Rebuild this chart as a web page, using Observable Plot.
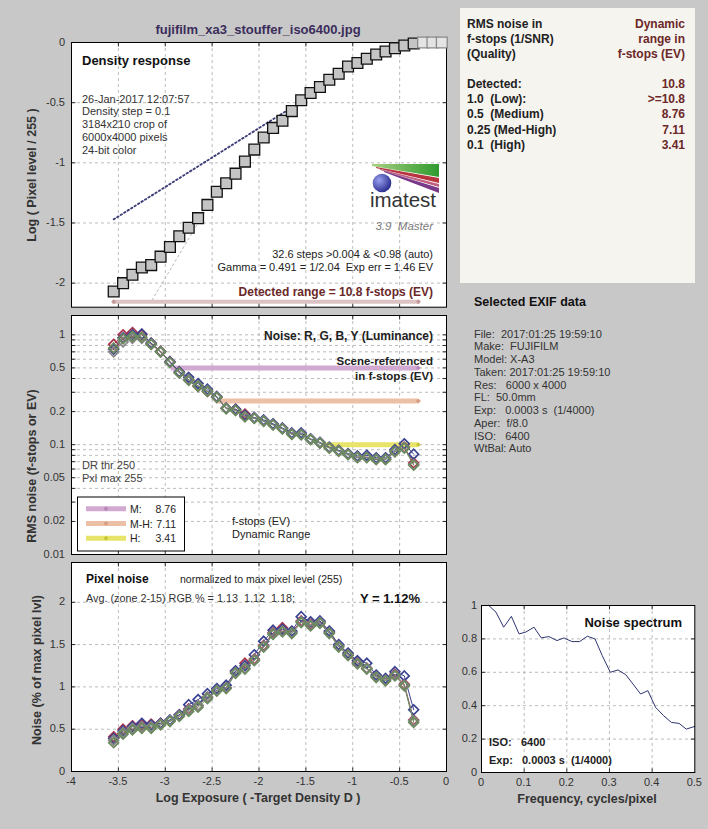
<!DOCTYPE html>
<html><head><meta charset="utf-8">
<script src="https://cdn.jsdelivr.net/npm/d3@7"></script>
<script src="https://cdn.jsdelivr.net/npm/@observablehq/plot@0.6"></script>
<style>
html,body{margin:0;padding:0;background:#c8c8c8;}
#root{position:relative;width:708px;height:829px;background:#c8c8c8;overflow:hidden;}
.pl{position:absolute;z-index:1;}
.tk{position:absolute;z-index:10;font-family:"Liberation Sans",Arial,Helvetica,sans-serif;font-size:11px;line-height:13px;height:13px;color:#333;white-space:pre;}
</style></head><body><div id="root"></div>
<script>
// ---------------- DATA ----------------
const fileTitle = "fujifilm_xa3_stouffer_iso6400.jpg";
// Density response (log exposure vs log pixel level)
const xDensity = [-3.55,-3.45,-3.35,-3.25,-3.15,-3.05,-2.95,-2.85,-2.75,-2.65,-2.55,-2.45,-2.35,-2.25,-2.15,-2.05,-1.95,-1.85,-1.75,-1.65,-1.55,-1.45,-1.35,-1.25,-1.15,-1.05,-0.95,-0.85,-0.75,-0.65,-0.55,-0.45,-0.35,-0.25,-0.15,-0.05];
const densityLog = [-2.07,-2.00,-1.93,-1.87,-1.85,-1.78,-1.70,-1.61,-1.54,-1.46,-1.35,-1.24,-1.17,-1.09,-0.99,-0.89,-0.79,-0.71,-0.65,-0.57,-0.48,-0.42,-0.37,-0.31,-0.26,-0.20,-0.17,-0.135,-0.10,-0.075,-0.047,-0.025,-0.008,0,0,0];
const gammaFitX = [-3.55,-1.65];
const gammaFitY = [-1.47,-0.54];
const expErrX = [-3.14,-2.55];
const expErrY = [-2.14,-1.37];
const detectedRangeX = [-3.55,-0.30];
const detectedRangeY = [-2.155,-2.155];

// Noise (f-stops) and pixel noise (% of max), R G B Y
const xNoise = [-3.55,-3.45,-3.35,-3.25,-3.15,-3.05,-2.95,-2.85,-2.75,-2.65,-2.55,-2.45,-2.35,-2.25,-2.15,-2.05,-1.95,-1.85,-1.75,-1.65,-1.55,-1.45,-1.35,-1.25,-1.15,-1.05,-0.95,-0.85,-0.75,-0.65,-0.55,-0.45,-0.35];
const evNoiseR = [0.82,1.00,1.05,1.00,0.84,0.71,0.57,0.46,0.39,0.34,0.305,0.27,0.215,0.21,0.19,0.175,0.165,0.153,0.14,0.126,0.125,0.112,0.104,0.094,0.088,0.082,0.077,0.077,0.074,0.074,0.087,0.095,0.068];
const evNoiseG = [0.76,0.92,0.97,0.95,0.82,0.70,0.56,0.45,0.385,0.34,0.305,0.27,0.212,0.205,0.18,0.173,0.163,0.151,0.139,0.124,0.123,0.111,0.103,0.093,0.087,0.081,0.076,0.076,0.073,0.073,0.086,0.093,0.065];
const evNoiseB = [0.74,0.94,1.00,1.02,0.84,0.70,0.57,0.46,0.41,0.36,0.32,0.275,0.215,0.21,0.185,0.177,0.168,0.155,0.142,0.128,0.128,0.113,0.105,0.095,0.089,0.083,0.079,0.080,0.076,0.076,0.090,0.102,0.082];
const evNoiseY = [0.70,0.86,0.93,0.93,0.82,0.70,0.56,0.45,0.39,0.345,0.31,0.27,0.215,0.205,0.18,0.175,0.165,0.152,0.14,0.125,0.124,0.112,0.104,0.094,0.088,0.082,0.077,0.077,0.074,0.074,0.087,0.094,0.066];
const pixNoiseR = [0.41,0.50,0.54,0.55,0.56,0.57,0.60,0.67,0.74,0.78,0.88,0.96,0.99,1.18,1.28,1.33,1.49,1.64,1.70,1.65,1.78,1.74,1.77,1.65,1.49,1.39,1.29,1.22,1.13,1.09,1.15,1.03,0.61];
const pixNoiseG = [0.34,0.44,0.49,0.51,0.51,0.55,0.59,0.65,0.71,0.76,0.86,0.95,0.98,1.16,1.21,1.31,1.47,1.62,1.65,1.63,1.76,1.72,1.75,1.63,1.47,1.37,1.27,1.21,1.11,1.07,1.13,1.01,0.58];
const pixNoiseB = [0.39,0.48,0.53,0.57,0.55,0.57,0.61,0.67,0.79,0.85,0.92,0.98,1.02,1.19,1.25,1.38,1.54,1.67,1.68,1.66,1.83,1.77,1.78,1.66,1.50,1.40,1.31,1.28,1.14,1.10,1.18,1.13,0.73];
const pixNoiseY = [0.37,0.46,0.51,0.53,0.53,0.56,0.60,0.66,0.73,0.78,0.88,0.96,0.99,1.17,1.22,1.32,1.48,1.63,1.66,1.64,1.77,1.73,1.76,1.64,1.48,1.38,1.28,1.22,1.12,1.08,1.14,1.02,0.60];

// Dynamic range levels
const drLabels = ["M:","M-H:","H:"];
const drValues = [8.76,7.11,3.41];
const drNoiseLevels = [0.5,0.25,0.1];
const drEnd = -0.30;

// Noise spectrum
const specFreq = [0.017,0.034,0.052,0.070,0.088,0.103,0.123,0.140,0.158,0.177,0.193,0.212,0.230,0.248,0.266,0.283,0.302,0.320,0.338,0.355,0.373,0.390,0.408,0.427,0.445,0.463,0.480,0.500];
const specPower = [1.00,0.96,0.87,0.935,0.83,0.84,0.87,0.806,0.814,0.79,0.806,0.784,0.784,0.816,0.80,0.70,0.60,0.614,0.586,0.53,0.47,0.49,0.39,0.34,0.30,0.294,0.26,0.276];

// Tick labels
const xTicks = [-4,-3.5,-3,-2.5,-2,-1.5,-1,-0.5,0];
const p1Ticks = [0,-0.5,-1,-1.5,-2];
const p2Ticks = [1,0.5,0.2,0.1,0.05,0.02,0.01];
const p2Minor = [0.01,0.02,0.03,0.04,0.05,0.06,0.07,0.08,0.09,0.1,0.2,0.3,0.4,0.5,0.6,0.7,0.8,0.9,1];
const p3Ticks = [0,0.5,1,1.5,2];
const specXTicks = [0,0.1,0.2,0.3,0.4,0.5];
const specYTicks = [0,0.2,0.4,0.6,0.8,1];

// Text blocks
const densityInfo = ["26-Jan-2017 12:07:57","Density step = 0.1","3184x210 crop of","6000x4000 pixels","24-bit color"];
const qualityLabels = ["Detected:","1.0  (Low):","0.5  (Medium)","0.25 (Med-High)","0.1  (High)"];
const qualityValues = ["10.8",">=10.8","8.76","7.11","3.41"];
const exifLines = ["File:  2017:01:25 19:59:10","Make:  FUJIFILM","Model: X-A3","Taken: 2017:01:25 19:59:10","Res:   6000 x 4000","FL:  50.0mm","Exp:   0.0003 s  (1/4000)","Aper:  f/8.0","ISO:   6400","WtBal: Auto"];

// ---------------- DRAW ----------------
const FONT = '"Liberation Sans", Arial, Helvetica, sans-serif';
const ST = {fontFamily: FONT, fontSize: "11px", color: "#333", background: "transparent", overflow: "visible"};
const GRID = {stroke: "#b4b4b4", strokeDasharray: "3,3", strokeWidth: 0.9};
const fmt = d => String(d);
const root = document.getElementById("root");
function place(svg, left, top) {
  const d = document.createElement("div");
  d.className = "pl"; d.style.left = left + "px"; d.style.top = top + "px";
  d.appendChild(svg); root.appendChild(d);
}
const tickIn = {
  top: {draw(c){c.moveTo(0,0);c.lineTo(0,4);}},
  bottom: {draw(c){c.moveTo(0,0);c.lineTo(0,-4);}},
  left: {draw(c){c.moveTo(0,0);c.lineTo(4,0);}},
  right: {draw(c){c.moveTo(0,0);c.lineTo(-4,0);}}
};
function frameTicks(xt, yt) {
  return [
    Plot.dot(xt, {x: d=>d, frameAnchor:"top", symbol: tickIn.top, stroke:"#000", strokeWidth:0.8}),
    Plot.dot(xt, {x: d=>d, frameAnchor:"bottom", symbol: tickIn.bottom, stroke:"#000", strokeWidth:0.8}),
    Plot.dot(yt, {y: d=>d, frameAnchor:"left", symbol: tickIn.left, stroke:"#000", strokeWidth:0.8}),
    Plot.dot(yt, {y: d=>d, frameAnchor:"right", symbol: tickIn.right, stroke:"#000", strokeWidth:0.8})
  ];
}
const COLORS = {R:"#a8344a", B:"#3a4290", Y:"#858585", G:"#6b8a5e"};
function series(xs, ys, color) {
  const rows = xs.map((x,i)=>({x, y: ys[i]}));
  return [
    Plot.line(rows, {x:"x", y:"y", stroke: color, strokeWidth: 1}),
    Plot.dot(rows, {x:"x", y:"y", symbol:"diamond2", r: 4.4, stroke: color, strokeWidth: 1.7, fill: "none"})
  ];
}
const xInner = xTicks.slice(1, -1);

// Panel 1: density response
const density = xDensity.map((x,i)=>({x, y: densityLog[i]}));
const p1 = Plot.plot({
  width: 460, height: 315, marginLeft: 71, marginRight: 14, marginTop: 42, marginBottom: 8.3,
  x: {domain: [-4, 0], axis: null}, y: {domain: [-2.2, 0], axis: null}, style: ST,
  marks: [
    Plot.frame({fill: "white"}),
    Plot.ruleX(xInner, GRID),
    Plot.ruleY(p1Ticks.slice(1), GRID),
    ...frameTicks(xInner, p1Ticks),
    Plot.line(expErrX.map((x,i)=>({x, y: expErrY[i]})), {x:"x", y:"y", stroke:"#b8b8b8", strokeDasharray:"2,3", strokeWidth:1}),
    Plot.line(density.filter(d=>d.y<0), {x:"x", y:"y", stroke:"#a9b060", strokeDasharray:"1,2", strokeWidth:1}),
    Plot.line(gammaFitX.map((x,i)=>({x, y: gammaFitY[i]})), {x:"x", y:"y", stroke:"#3f3f78", strokeDasharray:"1.5,2.6", strokeWidth:1.9}),
    Plot.line(detectedRangeX.map((x,i)=>({x, y: detectedRangeY[i]})), {x:"x", y:"y", stroke:"#dcc3c3", strokeWidth:4}),
    Plot.dot(detectedRangeX.map((x,i)=>({x, y: detectedRangeY[i]})), {x:"x", y:"y", symbol:"diamond2", r:2.2, fill:"#c49a9a"}),
    Plot.frame({stroke: "#000"}),
    Plot.dot(density, {x:"x", y:"y", symbol:"square", r:6.1, fill: d => d.y >= 0 ? "#e4e4e4" : "#c4c4c4", stroke: d => d.y >= 0 ? "#8a8a8a" : "#111", strokeWidth: 1.3})
  ]
});
place(p1, 0, 0);

// Panel 2: RMS noise in f-stops (log)
const drRows = drValues.map((v,i)=>({label: drLabels[i], dr: v, level: drNoiseLevels[i], x1: drEnd - v*Math.log10(2), x2: drEnd}));
const DRC = ["#d1a9d1","#ecc0a6","#e8e46a"];
const DRM = ["#b887b8","#d89e84","#c8c43a"];
const p2 = Plot.plot({
  width: 460, height: 250, marginLeft: 71, marginRight: 14, marginTop: 5, marginBottom: 6,
  x: {domain: [-4, 0], axis: null}, y: {type: "log", domain: [0.01, 1.5], axis: null}, style: ST,
  marks: [
    Plot.frame({fill: "white"}),
    Plot.ruleX(xInner, GRID),
    Plot.ruleY(p2Minor.slice(1), GRID),
    ...frameTicks(xInner, p2Minor),
    ...drRows.map((r,i)=>Plot.ruleY([r], {y:"level", x1:"x1", x2:"x2", stroke: DRC[i], strokeWidth: 5})),
    ...drRows.map((r,i)=>Plot.dot([r], {x:"x2", y:"level", symbol:"diamond2", r:2.2, fill: DRM[i]})),
    ...series(xNoise, evNoiseR, COLORS.R),
    ...series(xNoise, evNoiseB, COLORS.B),
    ...series(xNoise, evNoiseY, COLORS.Y),
    ...series(xNoise, evNoiseG, COLORS.G),
    Plot.frame({stroke: "#000"})
  ]
});
place(p2, 0, 310);

// Panel 3: pixel noise
const p3 = Plot.plot({
  width: 460, height: 273, marginLeft: 71, marginRight: 14, marginTop: 6, marginBottom: 58,
  x: {domain: [-4, 0], axis: null}, y: {domain: [0, 2.47], axis: null}, style: ST,
  marks: [
    Plot.frame({fill: "white"}),
    Plot.ruleX(xInner, GRID),
    Plot.ruleY(p3Ticks.slice(1), GRID),
    ...frameTicks(xInner, p3Ticks),
    ...series(xNoise, pixNoiseR, COLORS.R),
    ...series(xNoise, pixNoiseB, COLORS.B),
    ...series(xNoise, pixNoiseY, COLORS.Y),
    ...series(xNoise, pixNoiseG, COLORS.G),
    Plot.frame({stroke: "#000"})
  ]
});
place(p3, 0, 556);

// Noise spectrum
const spec = specFreq.map((f,i)=>({f, v: specPower[i]}));
const p4 = Plot.plot({
  width: 253, height: 239, marginLeft: 26, marginRight: 13.7, marginTop: 15, marginBottom: 57,
  x: {domain: [0, 0.5], axis: null}, y: {domain: [0, 1], axis: null}, style: ST,
  marks: [
    Plot.frame({fill: "white"}),
    Plot.ruleX(specXTicks.slice(1, -1), GRID),
    Plot.ruleY(specYTicks.slice(1, -1), GRID),
    ...frameTicks(specXTicks.slice(1, -1), specYTicks.slice(1, -1)),
    Plot.line(spec, {x:"f", y:"v", stroke:"#2e3672", strokeWidth: 1}),
    Plot.frame({stroke: "#000"})
  ]
});
place(p4, 455, 590);

// ---------------- TEXT OVERLAY ----------------
const ov = d3.select(root).append("svg").attr("width", 708).attr("height", 829)
  .style("position","absolute").style("left","0px").style("top","0px").style("z-index", 5);
function T(str, x, y, o = {}) {
  const t = ov.append("text").attr("x", x).attr("y", y).text(str)
    .attr("font-family", FONT).attr("font-size", o.size || 11)
    .attr("font-weight", o.bold ? "bold" : "normal")
    .attr("fill", o.color || "#222").attr("text-anchor", o.anchor || "start")
    .style("white-space", "pre");
  if (o.italic) t.attr("font-style", "italic");
  if (o.rot) t.attr("transform", `rotate(-90 ${x} ${y})`);
  return t;
}
// tick labels (HTML) positioned with each plot's own scales
function tickDiv(str, css) {
  const d = document.createElement("div");
  d.className = "tk"; d.textContent = str;
  Object.assign(d.style, css);
  root.appendChild(d);
}
function yTickLabels(plot, ticks, left, top, pad) {
  const sy = plot.scale("y"), sx = plot.scale("x");
  const edge = left + sx.range[0];
  ticks.forEach(v => tickDiv(fmt(v), {right: (708 - edge + pad) + "px", top: (top + sy.apply(v) - 6.5) + "px"}));
}
function xTickLabels(plot, ticks, left, top) {
  const sy = plot.scale("y"), sx = plot.scale("x");
  const edge = top + sy.range[0];
  ticks.forEach(v => tickDiv(fmt(v), {left: (left + sx.apply(v)) + "px", top: (edge + 3.5) + "px", transform: "translateX(-50%)"}));
}
yTickLabels(p1, p1Ticks, 0, 0, 6);
yTickLabels(p2, p2Ticks, 0, 310, 6);
yTickLabels(p3, p3Ticks, 0, 556, 6);
xTickLabels(p3, xTicks, 0, 556);
yTickLabels(p4, specYTicks, 455, 590, 4);
xTickLabels(p4, specXTicks, 455, 590);

const DARKRED = "#6b2828";

// title and axis labels
T(fileTitle, 258, 34, {size: 13, bold: true, color: "#3b2d5b", anchor: "middle"});
T("Log ( Pixel level / 255 )", 36, 175, {size: 12.5, bold: true, color: "#333", anchor: "middle", rot: true});
T("RMS noise (f-stops or EV)", 36, 466, {size: 12.5, bold: true, color: "#333", anchor: "middle", rot: true});
T("Noise (% of max pixel lvl)", 41, 670, {size: 12.5, bold: true, color: "#333", anchor: "middle", rot: true});
T("Log Exposure ( -Target Density D )", 258, 802, {size: 12.5, bold: true, color: "#333", anchor: "middle"});

// panel 1 annotations
T("Density response", 82, 65, {size: 13, bold: true, color: "#111"});
densityInfo.forEach((s,i)=>T(s, 82, 102.5 + i*12.8, {size: 11, color: "#333"}));
// imatest logo
const defs = ov.append("defs");
const rg = defs.append("radialGradient").attr("id","sph").attr("cx","35%").attr("cy","35%").attr("r","70%");
rg.append("stop").attr("offset","0%").attr("stop-color","#9aa0ee");
rg.append("stop").attr("offset","100%").attr("stop-color","#262a8e");
const lg = defs.append("linearGradient").attr("id","grn").attr("x1","0").attr("x2","1");
lg.append("stop").attr("offset","0%").attr("stop-color","#a8d080");
lg.append("stop").attr("offset","100%").attr("stop-color","#2f9a2f");
ov.append("polygon").attr("points","372,164 439,164 439,177 372,166").attr("fill","url(#grn)");
ov.append("polygon").attr("points","376,167 439,178 439,183 376,168").attr("fill","#b8343f");
ov.append("polygon").attr("points","380,169 439,184 439,187 380,170").attr("fill","#c06080");
ov.append("polygon").attr("points","384,171 439,188 439,193 384,172").attr("fill","#7a3a8a");
ov.append("circle").attr("cx",382).attr("cy",183).attr("r",9.3).attr("fill","url(#sph)");
T("imatest", 436, 207, {size: 20.5, color: "#333", anchor: "end"});
T("3.9  Master", 433, 229.5, {size: 11.5, italic: true, color: "#7a7a7a", anchor: "end"});
T("32.6 steps >0.004 & <0.98 (auto)", 433, 258, {size: 11, color: "#222", anchor: "end"});
T("Gamma = 0.491 = 1/2.04  Exp err = 1.46 EV", 433, 271, {size: 11, color: "#222", anchor: "end"});
T("Detected range = 10.8 f-stops (EV)", 433, 296, {size: 12, bold: true, color: DARKRED, anchor: "end"});

// panel 2 annotations
T("Noise: R, G, B, Y (Luminance)", 433, 339.5, {size: 12, bold: true, color: "#222", anchor: "end"});
T("Scene-referenced", 433, 365, {size: 11.5, bold: true, color: "#222", anchor: "end"});
T("in f-stops (EV)", 433, 379.5, {size: 11.5, bold: true, color: "#222", anchor: "end"});
T("DR thr 250", 82, 469, {size: 11, color: "#444"});
T("Pxl max 255", 82, 482, {size: 11, color: "#444"});
T("f-stops (EV)", 232, 525, {size: 11, color: "#222"});
T("Dynamic Range", 232, 537.5, {size: 11, color: "#222"});
ov.append("rect").attr("x",77.5).attr("y",497).attr("width",107).attr("height",54).attr("fill","white").attr("stroke","#000").attr("stroke-width",1);
drRows.forEach((r,i)=>{
  const cy = 508.7 + i*14.8;
  ov.append("line").attr("x1",86).attr("x2",126).attr("y1",cy).attr("y2",cy).attr("stroke",DRC[i]).attr("stroke-width",5);
  ov.append("path").attr("d",`M106,${cy-2.5}L108.5,${cy}L106,${cy+2.5}L103.5,${cy}Z`).attr("fill",DRM[i]);
  T(r.label, 130, cy + 4, {size: 10.5, color: "#222"});
  T(r.dr.toFixed(2), 176, cy + 4, {size: 10.5, color: "#222", anchor: "end"});
});

// panel 3 annotations
T("Pixel noise", 86, 583, {size: 12, bold: true, color: "#111"});
T("normalized to max pixel level (255)", 180, 583, {size: 10.5, color: "#222"});
T("Avg. (zone 2-15) RGB % = 1.13  1.12  1.18;", 86, 602, {size: 10.8, color: "#333"});
T("Y = 1.12%", 420, 603, {size: 13, bold: true, color: "#111", anchor: "end"});

// spectrum annotations
T("Noise spectrum", 682, 627, {size: 13, bold: true, color: "#111", anchor: "end"});
T("ISO:", 489, 746, {size: 11, bold: true, color: "#222"});
T("6400", 521, 746, {size: 11, bold: true, color: "#222"});
T("Exp:", 489, 764, {size: 11, bold: true, color: "#222"});
T("0.0003 s  (1/4000)", 522, 764, {size: 11, bold: true, color: "#222"});
T("Frequency, cycles/pixel", 587, 803, {size: 12.5, bold: true, color: "#333", anchor: "middle"});

// right info box
ov.append("rect").attr("x",460).attr("y",8).attr("width",235).attr("height",275).attr("fill","#f6f4ef");
["RMS noise in","f-stops (1/SNR)","(Quality)"].forEach((s,i)=>T(s, 467, 28.3 + i*15, {size: 12, bold: true, color: "#222"}));
["Dynamic","range in","f-stops (EV)"].forEach((s,i)=>T(s, 685, 28.3 + i*15, {size: 12, bold: true, color: DARKRED, anchor: "end"}));
qualityLabels.forEach((s,i)=>T(s, 467, 87.6 + i*15.4, {size: 12, bold: true, color: "#222"}));
qualityValues.forEach((s,i)=>T(s, 685, 87.6 + i*15.4, {size: 12, bold: true, color: DARKRED, anchor: "end"}));

// EXIF
T("Selected EXIF data", 474, 306, {size: 12.5, bold: true, color: "#111"});
exifLines.forEach((s,i)=>T(s, 474, 337.5 + i*12.75, {size: 11, color: "#333"}));
</script></body></html>
